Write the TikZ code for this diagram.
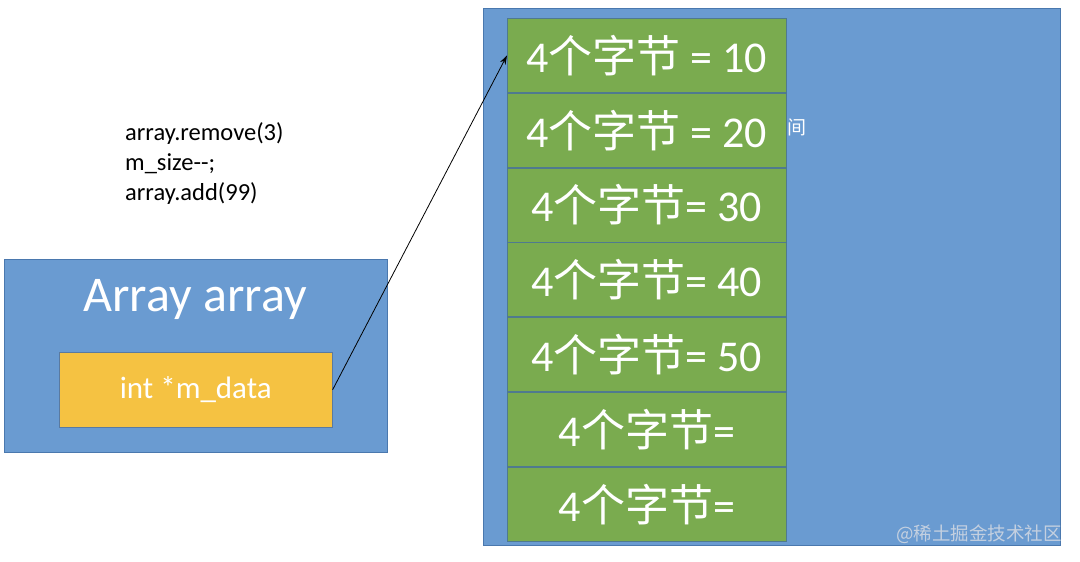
\documentclass[tikz,border=0pt]{standalone}
\usepackage{fontspec}
\usetikzlibrary{arrows.meta}
\setmainfont{Carlito}
\newfontfamily\cjk{Noto Sans CJK SC}
\definecolor{boxblue}{HTML}{6A9BD1}
\definecolor{boxblueline}{HTML}{4A78AE}
\definecolor{cellgreen}{HTML}{7AAB4F}
\definecolor{cellline}{HTML}{4F7A8F}
\definecolor{ptryellow}{HTML}{F5C242}
\definecolor{wmark}{HTML}{C4D0E0}
\tikzset{
  bluebox/.style={draw=boxblueline, fill=boxblue, line width=0.8pt, inner sep=0pt},
  cell/.style={draw=cellline, fill=cellgreen, line width=0.8pt, minimum width=279pt, minimum height=74pt, inner sep=0pt, text=white, font=\fontsize{44}{44}\selectfont},
  ptrbox/.style={draw=boxblueline!70!gray, fill=ptryellow, line width=0.6pt, minimum width=273pt, minimum height=75pt, inner sep=0pt, text=white, font=\fontsize{31}{31}\selectfont},
  codetext/.style={align=left, anchor=north west, inner sep=0pt, font=\fontsize{24.5}{30}\selectfont},
}
\begin{document}
\begin{tikzpicture}[x=1pt,y=-1pt]
\useasboundingbox (0,0) rectangle (1080,562);
% right memory block
\node[bluebox, minimum width=577pt, minimum height=537pt, anchor=north west] (mem) at (483,8) {};
\node[anchor=west, text=white, inner sep=0pt, font=\cjk\fontsize{19}{19}\selectfont] (gap) at (787,127) {间};
\node[cell, anchor=north west] (c1) at (507,18) {4{\cjk 个字节} = 10};
\node[cell, anchor=north] (c2) at (c1.south) {4{\cjk 个字节} = 20};
\node[cell, anchor=north] (c3) at (c2.south) {4{\cjk 个字节}= 30};
\node[cell, anchor=north] (c4) at (c3.south) {4{\cjk 个字节}= 40};
\node[cell, anchor=north] (c5) at (c4.south) {4{\cjk 个字节}= 50};
\node[cell, anchor=north] (c6) at (c5.south) {4{\cjk 个字节}=};
\node[cell, anchor=north] (c7) at (c6.south) {4{\cjk 个字节}=};
\node[anchor=south east, inner sep=0pt, text=wmark, font=\cjk\fontsize{18.5}{18.5}\selectfont] (wm) at (1062,544) {@稀土掘金技术社区};
% code
\node[codetext] (code) at (125,122) {array.remove(3)\\m\_size{-}{-};\\array.add(99)};
% left struct
\node[bluebox, minimum width=383pt, minimum height=193pt, anchor=north west] (arr) at (4,259) {};
\node[text=white, inner sep=0pt, font=\fontsize{50}{50}\selectfont] (title) at (195,299) {Array array};
\node[ptrbox, anchor=north west] (ptr) at (59,352) {int *m\_data};
% pointer arrow
\draw[-{Stealth[length=9pt,width=6pt]}, line width=0.8pt] (ptr.east) -- (c1.west);
\end{tikzpicture}
\end{document}
